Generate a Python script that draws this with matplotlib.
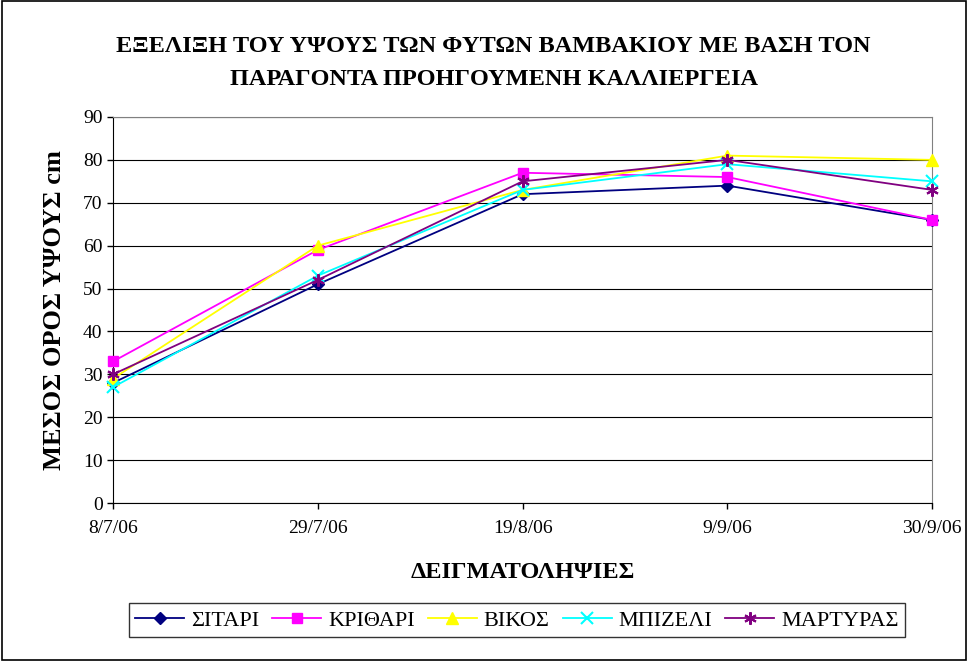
import matplotlib.pyplot as plt
from matplotlib.patches import Rectangle

dates = ['8/7/06', '29/7/06', '19/8/06', '9/9/06', '30/9/06']
sitari = [28, 51, 72, 74, 66]
krithari = [33, 59, 77, 76, 66]
vikos = [29, 60, 73, 81, 80]
mpizeli = [27, 53, 73, 79, 75]
martyras = [30, 52, 75, 80, 73]

series = [
    ('ΣΙΤΑΡΙ', sitari, '#000080', 'D', 6),
    ('ΚΡΙΘΑΡΙ', krithari, '#ff00ff', 's', 7),
    ('ΒΙΚΟΣ', vikos, '#ffff00', '^', 8),
    ('ΜΠΙΖΕΛΙ', mpizeli, '#00ffff', 'x', 8),
    ('ΜΑΡΤΥΡΑΣ', martyras, '#800080', (6, 2, 0), 9),
]

plt.rcParams['font.family'] = ['Liberation Serif', 'DejaVu Serif']

fig = plt.figure(figsize=(9.68, 6.61), dpi=100)
ax = fig.add_axes([0.1167, 0.239, 0.963 - 0.1167, 0.823 - 0.239])

x = range(len(dates))
for name, vals, col, mk, ms in series:
    ax.plot(x, vals, color=col, marker=mk, markersize=ms, linewidth=1.3,
            markeredgewidth=1.5 if mk in ('x',) or isinstance(mk, tuple) else 1,
            label=name, clip_on=False, zorder=3)

ax.set_xlim(0, len(dates) - 1)
ax.set_ylim(0, 90)
ax.set_yticks(range(0, 91, 10))
ax.set_xticks(list(x))
ax.set_xticklabels(dates)
ax.tick_params(axis='both', labelsize=14, direction='out', length=4, width=1)
ax.tick_params(axis='x', pad=8)
ax.grid(axis='y', color='black', linewidth=0.8)
ax.set_axisbelow(True)
for s in ['top', 'right']:
    ax.spines[s].set_color('#808080')
ax.spines['left'].set_color('black')
ax.spines['bottom'].set_color('black')

fig.text(0.51, 0.929, 'ΕΞΕΛΙΞΗ ΤΟΥ ΥΨΟΥΣ ΤΩΝ ΦΥΤΩΝ ΒΑΜΒΑΚΙΟΥ ΜΕ ΒΑΣΗ ΤΟΝ',
         ha='center', va='center', fontsize=17.5, fontweight='bold')
fig.text(0.51, 0.879, 'ΠΑΡΑΓΟΝΤΑ ΠΡΟΗΓΟΥΜΕΝΗ ΚΑΛΛΙΕΡΓΕΙΑ',
         ha='center', va='center', fontsize=17.5, fontweight='bold')
ax.set_ylabel('ΜΕΣΟΣ ΟΡΟΣ ΥΨΟΥΣ cm', fontsize=19, fontweight='bold', labelpad=12)
ax.set_xlabel('ΔΕΙΓΜΑΤΟΛΗΨΙΕΣ', fontsize=17.5, fontweight='bold', labelpad=18)

leg = fig.legend(loc='center', bbox_to_anchor=(0.534, 0.0615), ncol=5, fontsize=16,
                 frameon=True, fancybox=False, edgecolor='black', handlelength=2.2,
                 columnspacing=0.6, handletextpad=0.3, borderpad=0.3)
leg.get_frame().set_linewidth(1)

fig.patches.append(Rectangle((0.002, 0.002), 0.996, 0.996, transform=fig.transFigure,
                             fill=False, edgecolor='black', linewidth=1.2))

fig.savefig('out.png', dpi=100)
